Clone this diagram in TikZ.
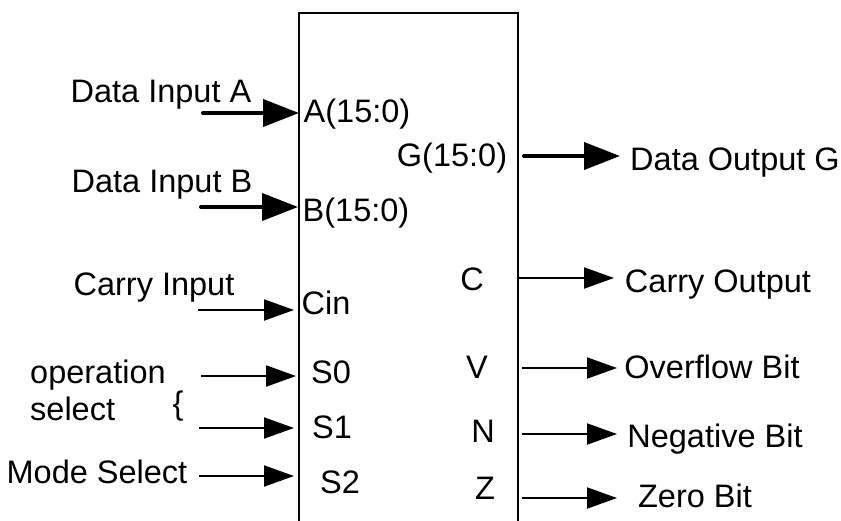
\documentclass[tikz,border=0pt]{standalone}
\usepackage{fontspec}
\setmainfont{Liberation Sans}
\usetikzlibrary{arrows.meta}
\tikzset{
  bus/.style={line width=4pt,line cap=round,-{Triangle[length=36pt,width=27pt]}},
  wire/.style={line width=2pt,-{Triangle[length=30pt,width=21pt]}},
  lbl/.style={anchor=base,inner sep=0pt,font=\fontsize{32.5}{37}\selectfont},
}
\begin{document}
\begin{tikzpicture}[x=1pt,y=-1pt]
      \useasboundingbox (0,0) rectangle (841,520);
      \node[draw,line width=2pt,inner sep=0pt,outer sep=0pt,minimum width=219pt,minimum height=560pt,anchor=north west] (alu) at (299,13) {};

      % inputs
      \node[lbl] (dA) at (161,102) {Data Input A};
      \node[lbl] (dB) at (162,192) {Data Input B};
      \node[lbl] (cI) at (154,295) {Carry Input};
      \node[lbl,anchor=base west,align=left] (opsel) at (30,420) {operation\\select};
      \node[lbl,anchor=center] (brace) at (178,406) {\{};
      \node[lbl] (mS) at (97,483) {Mode Select};

      \node[lbl] (pA) at (357,122) {A(15:0)};
      \node[lbl] (pB) at (356,221) {B(15:0)};
      \node[lbl] (pCin) at (326,314) {Cin};
      \node[lbl] (pS0) at (331,383) {S0};
      \node[lbl] (pS1) at (332,438) {S1};
      \node[lbl] (pS2) at (340,493) {S2};

      \coordinate (inA) at (203,113);
      \coordinate (inB) at (201,207);
      \coordinate (inC) at (198,310);
      \coordinate (inS0) at (201,376);
      \coordinate (inS1) at (199,428);
      \coordinate (inS2) at (199,476);

      \draw[bus] (inA) -- (inA -| alu.west);
      \draw[bus,shorten >=1pt] (inB) -- (inB -| alu.west);
      \draw[wire,shorten >=5pt] (inC) -- (inC -| alu.west);
      \draw[wire,shorten >=3pt] (inS0) -- (inS0 -| alu.west);
      \draw[wire,shorten >=5pt] (inS1) -- (inS1 -| alu.west);
      \draw[wire,shorten >=5pt] (inS2) -- (inS2 -| alu.west);

      % outputs
      \node[lbl] (pG) at (452,166) {G(15:0)};
      \node[lbl] (pC) at (472,290) {C};
      \node[lbl] (pV) at (477,378) {V};
      \node[lbl] (pN) at (483,442) {N};
      \node[lbl] (pZ) at (485,499) {Z};

      \node[lbl] (dG) at (735,170) {Data Output G};
      \node[lbl] (cO) at (718,292) {Carry Output};
      \node[lbl] (oB) at (712,378) {Overflow Bit};
      \node[lbl] (nB) at (715,447) {Negative Bit};
      \node[lbl] (zB) at (695,507) {Zero Bit};

      \coordinate (outG) at (524,156);
      \coordinate (outC) at (alu.east |- 0,278);
      \coordinate (outV) at (522,368);
      \coordinate (outN) at (522,434);
      \coordinate (outZ) at (522,498);

      \draw[bus] (outG) -- ++(96,0);
      \draw[wire] (outC) -- ++(96,0);
      \draw[wire] (outV) -- ++(95,0);
      \draw[wire] (outN) -- ++(95,0);
      \draw[wire] (outZ) -- ++(95,0);
\end{tikzpicture}
\end{document}
